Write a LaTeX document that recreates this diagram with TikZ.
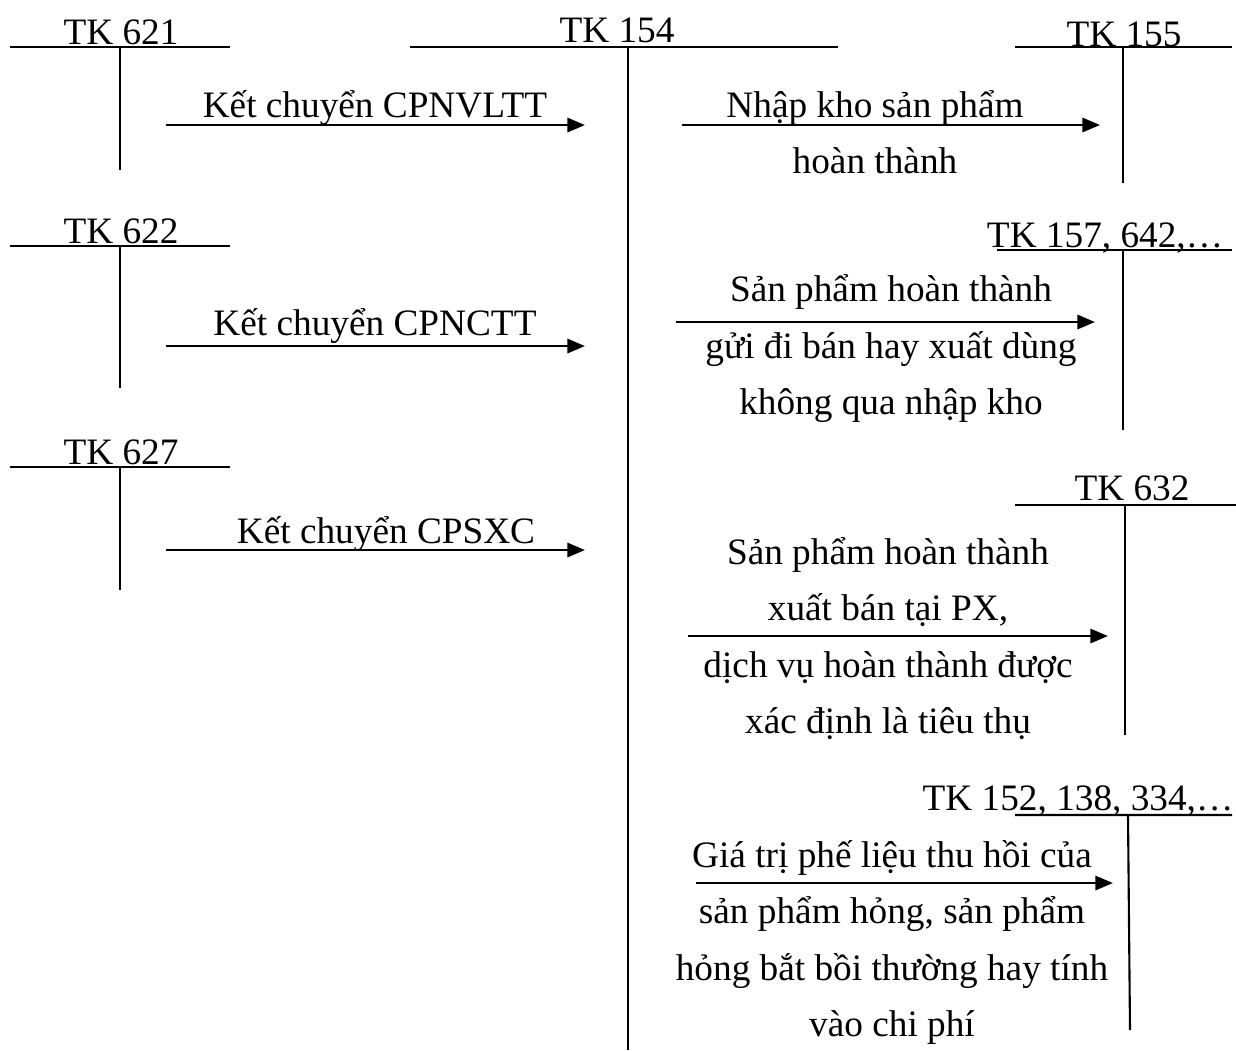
\documentclass[tikz,border=0pt]{standalone}
\usepackage{fontspec}
\setmainfont{Liberation Serif}
\usetikzlibrary{arrows.meta}

\begin{document}
\begin{tikzpicture}[
  x=0.01cm, y=-0.01cm,
  font=\fontsize{10.6}{15.93}\selectfont,
  acct/.style={anchor=base, inner sep=0pt},
  tline/.style={line width=0.6pt},
  lbl/.style={anchor=base, align=center, inner sep=0pt},
  arr/.style={-{Triangle[length=5pt, width=4pt]}, line width=0.8pt}
]
\useasboundingbox (0,0) rectangle (1236,1050);

% T accounts
\node[acct] (tk621) at (121,44) {TK 621};
\draw[tline] (10,47) -- (230,47) (120,47) -- (120,170);
\node[acct] (tk622) at (121,243) {TK 622};
\draw[tline] (10,246) -- (230,246) (120,246) -- (120,388);
\node[acct] (tk627) at (121,464) {TK 627};
\draw[tline] (10,467) -- (230,467) (120,467) -- (120,590);
\node[acct] (tk154) at (617,42) {TK 154};
\draw[tline] (410,47) -- (838,47) (628,47) -- (628,1050);
\node[acct] (tk155) at (1124,46) {TK 155};
\draw[tline] (1015,47) -- (1232,47) (1123,47) -- (1123,183);
\node[acct] (tk157) at (1105,247) {TK 157, 642,\dots};
\draw[tline] (997,250) -- (1232,250) (1123,250) -- (1123,430);
\node[acct] (tk632) at (1132,500) {TK 632};
\draw[tline] (1015,505) -- (1236,505) (1125,505) -- (1125,735);
\node[acct] (tk152) at (1078,810) {TK 152, 138, 334,\dots};
\draw[tline] (1015,815) -- (1232,815) (1128,815) -- (1130,1030);

% arrows into TK 154
\coordinate (a621) at (166,125); \coordinate (b621) at (585,125);
\draw[arr] (a621) -- (b621);
\node[lbl] (kc621) at (375,117) {Kết chuyển CPNVLTT};
\coordinate (a622) at (166,346); \coordinate (b622) at (585,346);
\draw[arr] (a622) -- (b622);
\node[lbl] (kc622) at (375,335) {Kết chuyển CPNCTT};
\coordinate (a627) at (166,550); \coordinate (b627) at (585,550);
\draw[arr] (a627) -- (b627);
\node[lbl] (kc627) at (386,543) {Kết chuyển CPSXC};

% arrows out of TK 154 (base = last line)
\coordinate (a155) at (682,125); \coordinate (b155) at (1100,125);
\draw[arr] (a155) -- (b155);
\node[lbl] (nk155) at (875,173) {Nhập kho sản phẩm\\hoàn thành};
\coordinate (a157) at (676,322); \coordinate (b157) at (1095,322);
\draw[arr] (a157) -- (b157);
\node[lbl] (gb157) at (891,414) {Sản phẩm hoàn thành\\gửi đi bán hay xuất dùng\\không qua nhập kho};
\coordinate (a632) at (688,636); \coordinate (b632) at (1108,636);
\draw[arr] (a632) -- (b632);
\node[lbl] (xb632) at (888,733) {Sản phẩm hoàn thành\\xuất bán tại PX,\\dịch vụ hoàn thành được\\xác định là tiêu thụ};
\coordinate (a152) at (696,883); \coordinate (b152) at (1113,883);
\draw[arr] (a152) -- (b152);
\node[lbl] (pl152) at (892,1036) {Giá trị phế liệu thu hồi của\\sản phẩm hỏng, sản phẩm\\hỏng bắt bồi thường hay tính\\vào chi phí};
\end{tikzpicture}
\end{document}
